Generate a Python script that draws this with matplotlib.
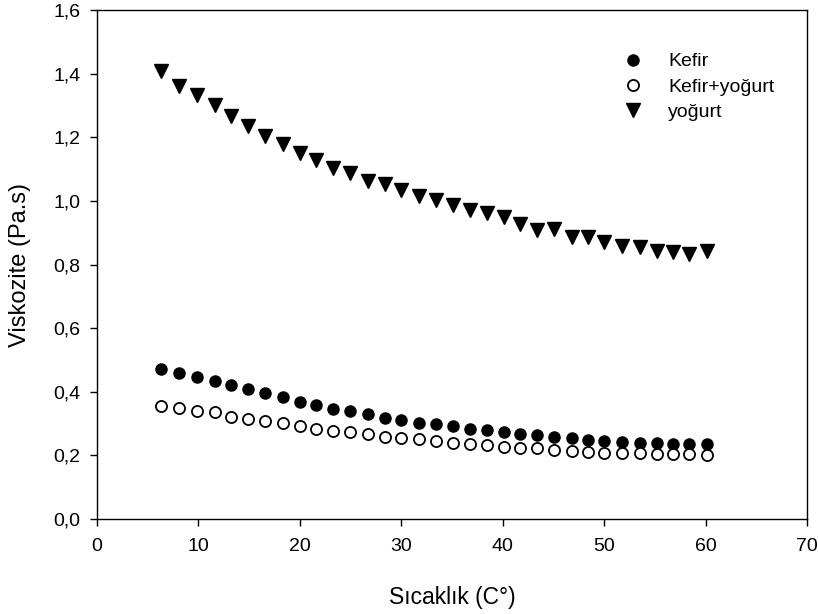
import matplotlib
matplotlib.use("Agg")
import matplotlib.pyplot as plt
from matplotlib.ticker import FuncFormatter, MultipleLocator

plt.rcParams["font.family"] = ["Liberation Sans", "DejaVu Sans"]

# Data
sicaklik = [6.3, 8.1, 9.9, 11.6, 13.2, 14.9, 16.6, 18.3, 20.0, 21.6, 23.3,
            24.9, 26.7, 28.4, 30.0, 31.7, 33.4, 35.1, 36.8, 38.4, 40.1, 41.7,
            43.4, 45.1, 46.8, 48.4, 50.0, 51.8, 53.5, 55.2, 56.8, 58.4, 60.1]
kefir = [0.471, 0.459, 0.447, 0.435, 0.422, 0.408, 0.396, 0.382, 0.369, 0.359,
         0.347, 0.338, 0.329, 0.317, 0.312, 0.303, 0.298, 0.291, 0.284, 0.279,
         0.272, 0.267, 0.263, 0.258, 0.254, 0.248, 0.246, 0.243, 0.240, 0.239,
         0.237, 0.235, 0.235]
kefir_yogurt = [0.354, 0.349, 0.340, 0.335, 0.322, 0.314, 0.309, 0.301, 0.291,
                0.284, 0.277, 0.272, 0.267, 0.259, 0.256, 0.251, 0.244, 0.238,
                0.235, 0.232, 0.225, 0.223, 0.222, 0.216, 0.214, 0.212, 0.209,
                0.207, 0.206, 0.205, 0.204, 0.203, 0.202]
yogurt = [1.409, 1.362, 1.332, 1.301, 1.266, 1.235, 1.205, 1.178, 1.149, 1.130,
          1.102, 1.088, 1.061, 1.054, 1.035, 1.015, 1.002, 0.988, 0.970, 0.962,
          0.949, 0.928, 0.907, 0.912, 0.886, 0.888, 0.870, 0.858, 0.855, 0.844,
          0.839, 0.834, 0.844]

fig = plt.figure(figsize=(8.18, 6.14), dpi=100)
ax = fig.add_axes([0.1186, 0.1547, 0.868, 0.829])

ax.plot(sicaklik, kefir, "o", color="black", ms=8, label="Kefir")
ax.plot(sicaklik, kefir_yogurt, "o", mfc="white", mec="black", mew=1.3, ms=8,
        label="Kefir+yoğurt")
ax.plot(sicaklik, yogurt, "v", color="black", ms=9.5, label="yoğurt")

ax.set_xlim(0, 70)
ax.set_ylim(0, 1.6)
ax.xaxis.set_major_locator(MultipleLocator(10))
ax.yaxis.set_major_locator(MultipleLocator(0.2))
ax.yaxis.set_major_formatter(FuncFormatter(lambda v, p: f"{v:.1f}".replace(".", ",")))
ax.tick_params(direction="out", length=5, width=1, labelsize=14, pad=7,
               top=False, right=False)
ax.tick_params(axis="x", pad=9)
for s in ax.spines.values():
    s.set_linewidth(1.0)

ax.set_xlabel("Sıcaklık (C°)", fontsize=16.5, labelpad=22)
ax.set_ylabel("Viskozite (Pa.s)", fontsize=17, labelpad=16)

ax.legend(loc="upper left", bbox_to_anchor=(0.7417, 0.916), frameon=False,
          fontsize=14, numpoints=1, handlelength=1.0, handletextpad=1.3,
          borderpad=0, borderaxespad=0, labelspacing=0.4)

fig.savefig("out.png", dpi=100, facecolor="white")
